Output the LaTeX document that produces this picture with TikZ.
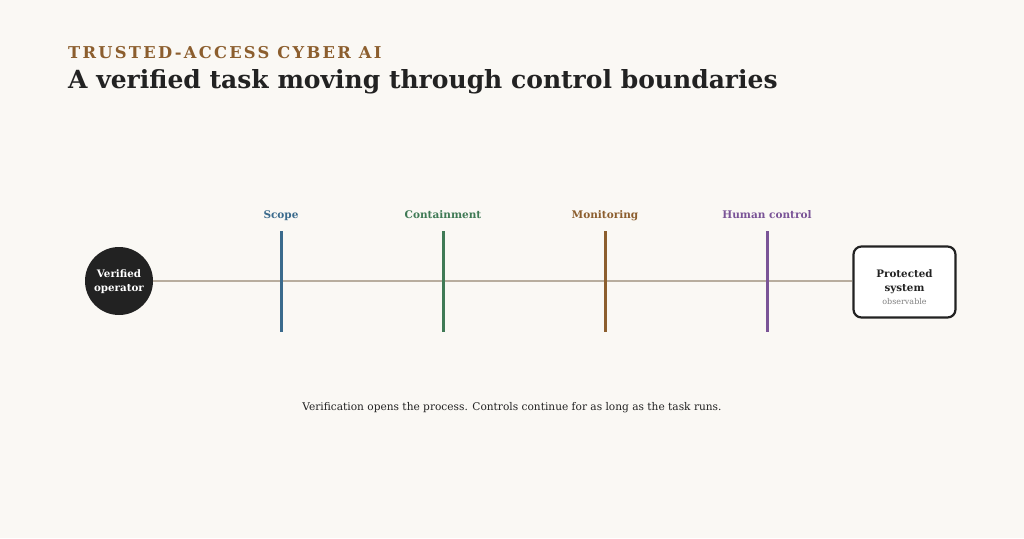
\documentclass[tikz,border=0pt]{standalone}
\usepackage{fontspec}
\setmainfont{DejaVu Serif}
\newfontfamily\kickfont[LetterSpace=14]{DejaVu Serif}
\definecolor{bg}{HTML}{FAF8F4}
\definecolor{ink}{HTML}{222222}
\definecolor{kick}{HTML}{8C5E2E}
\definecolor{track}{HTML}{B8AD9E}
\definecolor{cscope}{HTML}{3A6A8C}
\definecolor{ccont}{HTML}{3F7A55}
\definecolor{cmon}{HTML}{8C5E2E}
\definecolor{chum}{HTML}{7A5497}
\tikzset{
  bar/.style={line width=3pt},
  barlabel/.style={font=\bfseries\fontsize{10.5}{13}\selectfont, anchor=base},
}
\begin{document}
\begin{tikzpicture}[x=1pt,y=-1pt]
\fill[bg] (0,0) rectangle (1024,538);
\useasboundingbox (0,0) rectangle (1024,538);
\node[anchor=base west, inner sep=0, text=kick, font=\kickfont\bfseries\fontsize{16.3}{20}\selectfont] (kicker) at (68,58) {TRUSTED-ACCESS CYBER AI};
\node[anchor=base west, inner sep=0, text=ink, font=\bfseries\fontsize{25}{30}\selectfont] (title) at (68,88) {A verified task moving through control boundaries};
\node[circle, fill=ink, minimum size=68pt, inner sep=0] (op) at (119,281) {};
\node[align=center, inner sep=0, text=white, font=\bfseries\fontsize{10.3}{13.5}\selectfont, anchor=base] (opt) at (119,291) {Verified\\operator};
\node[draw=ink, line width=2.2pt, rounded corners=8pt, fill=white, minimum width=102pt, minimum height=71pt, inner sep=0] (sys) at (904.5,282) {};
\node[align=center, inner sep=0, text=ink, font=\bfseries\fontsize{10.3}{13.5}\selectfont, anchor=base] (syst) at (904.5,291) {Protected\\system};
\node[inner sep=0, text=gray, font=\fontsize{8}{10}\selectfont, anchor=base] (obs) at (904.5,304) {observable};
\draw[track, line width=2pt] (op.east) -- (op.east -| sys.west);
\foreach \x/\c/\n/\t in {281/cscope/b1/Scope, 443/ccont/b2/Containment, 605/cmon/b3/Monitoring, 767/chum/b4/Human control}{
  \coordinate (\n top) at (\x,231);
  \coordinate (\n bot) at (\x,332);
  \draw[bar, \c] (\n top) -- (\n bot);
  \node[barlabel, text=\c, inner sep=0] (\n lab) at (\x,218) {\t};
}
\node[anchor=base, inner sep=0, text=ink, font=\fontsize{10.6}{15}\selectfont] (cap) at (512,410) {Verification opens the process. Controls continue for as long as the task runs.};
\end{tikzpicture}
\end{document}
